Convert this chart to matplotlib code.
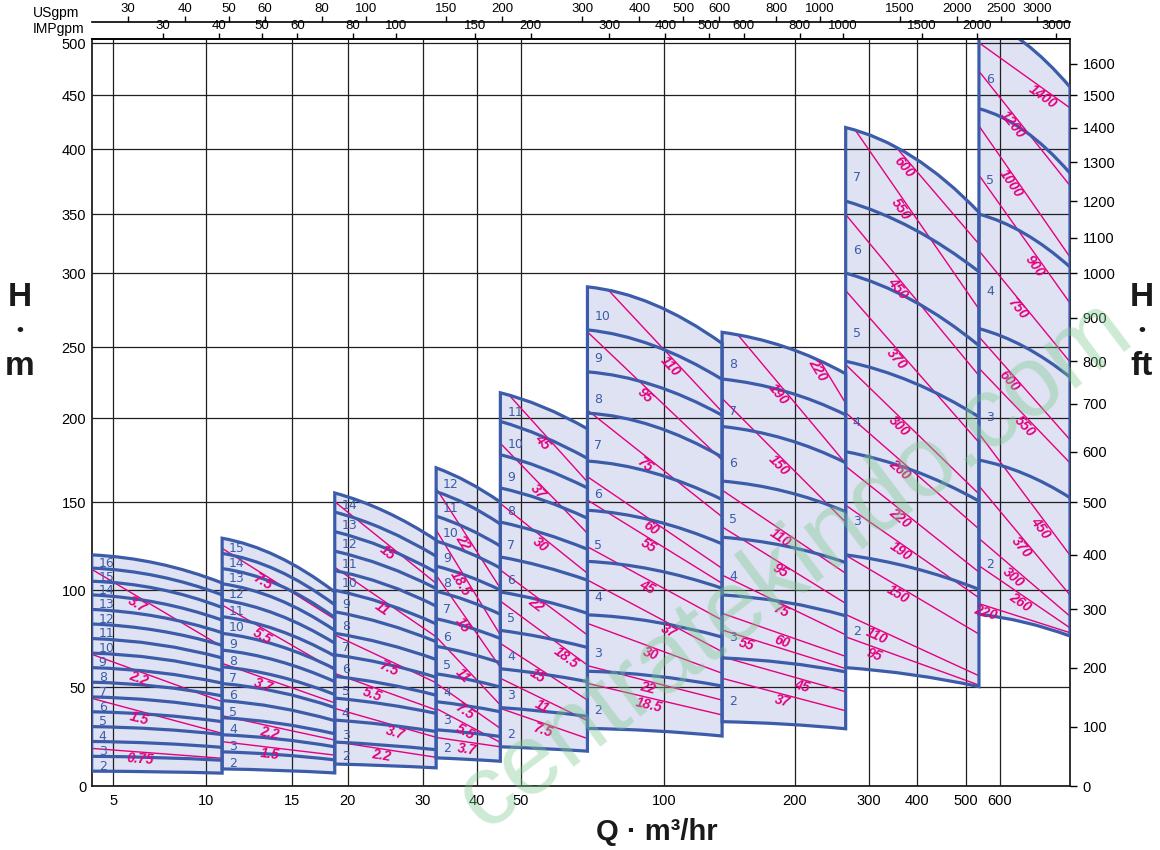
import numpy as np
import matplotlib
matplotlib.use('Agg')
import matplotlib.pyplot as plt
from matplotlib.path import Path
from matplotlib.patches import PathPatch
from matplotlib.ticker import NullLocator

plt.rcParams['font.family'] = ['Liberation Sans', 'DejaVu Sans']

# ---------------- axis calibration (the printed chart uses non-uniform axes) ----------
X_CAL_Q = [4.25, 5, 10, 15, 20, 30, 40, 50, 100, 200, 300, 400, 500, 600, 873]
X_CAL_PX = [91.7, 113.3, 205.7, 292.3, 347.7, 422.7, 477.3, 521, 664, 795, 869, 917, 966, 1000, 1070]
Y_CAL_H = [0, 50, 100, 150, 200, 250, 300, 350, 400, 450, 500]
Y_CAL_PX = [0, 99, 196, 284, 368, 439, 513, 572, 637, 691, 743]
FT_PER_M_LABEL = 0.3   # printed ft scale uses 1 ft ~ 0.3 m

# ---------------- tick labels ----------------
X_TICKS = [5, 10, 15, 20, 30, 40, 50, 100, 200, 300, 400, 500, 600]
Y_TICKS = [0, 50, 100, 150, 200, 250, 300, 350, 400, 450, 500]
FT_TICKS = list(range(0, 1700, 100))
US_TICKS = [30, 40, 50, 60, 80, 100, 150, 200, 300, 400, 500, 600, 800, 1000, 1500, 2000, 2500, 3000]
IMP_TICKS = [30, 40, 50, 60, 80, 100, 150, 200, 300, 400, 500, 600, 800, 1000, 1500, 2000, 3000]
US_LIM = (24.96, 3546)
IMP_LIM = (20.77, 3225)

# ---------------- pump families: flow range, head per stage, number of stages ----------
fam_q_start = [4.25, 10.8, 18.7, 32.2, 45.0, 69.0, 136.0, 264.0, 536.0]
fam_q_mid = [7.0, 14.0, 24.5, 38.0, 55.5, 95.0, 190.0, 390.0, 684.0]
fam_q_end = [10.8, 18.7, 32.2, 45.0, 69.0, 136.0, 264.0, 536.0, 873.0]
fam_h_start = [7.5, 8.63, 11.1, 14.2, 19.8, 29.07, 32.5, 60.0, 87.5]
fam_h_mid = [7.19, 7.94, 10.33, 13.5, 18.91, 27.9, 31.26, 56.3, 83.4]
fam_h_end = [6.5, 6.6, 9.17, 12.5, 17.6, 25.25, 28.9, 50.2, 76.3]
fam_stages = [16, 15, 14, 12, 11, 10, 8, 7, 6]

# ---------------- motor power lines (kW) per family ----------------
pw_labels = [
    ['3.7', '2.2', '1.5', '0.75'],
    ['7.5', '5.5', '3.7', '2.2', '1.5'],
    ['15', '11', '7.5', '5.5', '3.7', '2.2'],
    ['22', '18.5', '15', '11', '7.5', '5.5', '3.7'],
    ['45', '37', '30', '22', '18.5', '15', '11', '7.5'],
    ['110', '95', '75', '60', '55', '45', '37', '30', '22', '18.5'],
    ['220', '190', '150', '110', '95', '75', '60', '55', '45', '37'],
    ['600', '550', '450', '370', '300', '260', '220', '190', '150', '110', '95'],
    ['1400', '1200', '1000', '900', '750', '600', '550', '450', '370', '300', '260', '220'],
]
pw_h_start = [
    [111.8, 66.9, 44.3, 19.0],
    [123.7, 92.3, 62.2, 35.5, 22.4],
    [150.2, 112.9, 76.8, 57.0, 39.2, 22.4],
    [158.2, 134.1, 108.5, 75.9, 51.9, 39.2, 24.5],
    [223, 185, 149.2, 111.4, 94.3, 72.5, 54.5, 39.2],
    [304.6, 260.3, 205.6, 165.1, 151.2, 124.6, 105.7, 82.8, 61.0, 51.9],
    [362, 271, 213.9, 157.1, 135.9, 108.5, 88.0, 79.4, 65.6, 54.5],
    [456.6, 430.5, 349.7, 288.2, 237.7, 203.8, 171.3, 148.2, 119.8, 87.4, 75.9],
    [500.4, 473, 421.5, 380, 319, 257, 235.1, 190.8, 159.6, 129.3, 113.8, 93],
]
pw_h_end = [
    [70.8, 42.6, 26.6, 14.0],
    [85.0, 58.8, 42.0, 23.2, 15.6],
    [103.8, 75.9, 52.2, 38.4, 24.6, 14.5],
    [101.0, 76.8, 60.1, 40.9, 29.1, 22.0, 19.8],
    [162, 132.2, 109.5, 76.8, 61.3, 43.4, 33.0, 24.0],
    [204.4, 175.0, 141.6, 112.3, 103.8, 84.5, 68.2, 57.1, 43.4, 35.9],
    [210.4, 173, 138.5, 109.5, 93.1, 76.9, 65.8, 59.5, 47.6, 38.0],
    [324.6, 275.7, 229.9, 185.5, 154.8, 134.7, 110.2, 96.0, 77.3, 55.8, 51.0],
    [438.2, 371.9, 313.6, 279.7, 239.5, 187.1, 173.3, 119.8, 97.4, 86.5, 80.5, 78],
]
pw_label_t = [
    [0.38, 0.38, 0.38, 0.38],
    [0.39, 0.39, 0.39, 0.43, 0.43],
    [0.56, 0.51, 0.56, 0.39, 0.62, 0.47],
    [0.5, 0.47, 0.5, 0.5, 0.5, 0.5, 0.5],
    [0.54, 0.49, 0.51, 0.45, 0.8, 0.47, 0.51, 0.51],
    [0.65, 0.46, 0.46, 0.5, 0.48, 0.47, 0.63, 0.49, 0.46, 0.47],
    [0.82, 0.5, 0.5, 0.5, 0.5, 0.5, 0.5, 0.21, 0.66, 0.5],
    [0.48, 0.46, 0.43, 0.42, 0.44, 0.44, 0.44, 0.44, 0.42, 0.25, 0.23],
    [0.74, 0.43, 0.41, 0.68, 0.48, 0.39, 0.56, 0.74, 0.52, 0.43, 0.5, 0.1],
]

BLUE = '#3c5caa'
FILL = '#dee2f2'
MAG = '#e5007e'
GRID = '#231f20'


def make_piecewise(vals, pos, log=False):
    v = np.log10(np.asarray(vals, float)) if log else np.asarray(vals, float)
    p = np.asarray(pos, float)

    def fwd(x):
        x = np.asarray(x, float)
        if log:
            xv = np.log10(np.clip(x, 1e-9, None))
        else:
            xv = x
        out = np.interp(xv, v, p)
        out = np.where(xv < v[0], p[0] + (xv - v[0]) * (p[1] - p[0]) / (v[1] - v[0]), out)
        out = np.where(xv > v[-1], p[-1] + (xv - v[-1]) * (p[-1] - p[-2]) / (v[-1] - v[-2]), out)
        return out

    def inv(y):
        y = np.asarray(y, float)
        out = np.interp(y, p, v)
        out = np.where(y < p[0], v[0] + (y - p[0]) * (v[1] - v[0]) / (p[1] - p[0]), out)
        out = np.where(y > p[-1], v[-1] + (y - p[-1]) * (v[-1] - v[-2]) / (p[-1] - p[-2]), out)
        return 10 ** out if log else out

    return fwd, inv


fx, ix = make_piecewise(X_CAL_Q, X_CAL_PX, log=True)
fy, iy = make_piecewise(Y_CAL_H, Y_CAL_PX)


def fy_ft(f):
    return fy(np.asarray(f, float) * FT_PER_M_LABEL)


def iy_ft(p):
    return iy(p) / FT_PER_M_LABEL


W, H = 1160, 850
L, R, B, T = 91.7, 1070, 786, 39
fig = plt.figure(figsize=(W / 100, H / 100), dpi=100)
ax = fig.add_axes([L / W, 1 - B / H, (R - L) / W, (B - T) / H])
ax.set_xscale('function', functions=(fx, ix))
ax.set_yscale('function', functions=(fy, iy))
ax.set_xlim(4.25, 873)
ax.set_ylim(0, 504)
ax.set_xticks(X_TICKS)
ax.set_xticklabels([str(v) for v in X_TICKS])
ax.set_yticks(Y_TICKS)
ax.set_yticklabels([str(v) for v in Y_TICKS])
ax.xaxis.set_minor_locator(NullLocator())
ax.yaxis.set_minor_locator(NullLocator())
ax.tick_params(axis='both', length=0, labelsize=10.5)
ax.tick_params(axis='x', pad=6)
ax.tick_params(axis='y', pad=4)
ax.grid(True, color=GRID, lw=0.9)
ax.set_axisbelow('line')
for s in ax.spines.values():
    s.set_linewidth(1.3)
    s.set_color(GRID)


def bez_ctrl(p0, pm, p1):
    x0, xm, x1 = fx(p0[0]), fx(pm[0]), fx(p1[0])
    y0, ym, y1 = fy(p0[1]), fy(pm[1]), fy(p1[1])
    cx = 2 * xm - (x0 + x1) / 2
    cy = 2 * ym - (y0 + y1) / 2
    return (float(ix(cx)), float(iy(cy)))


fill_patches = []
for f in range(len(fam_stages)):
    q0, qm, q1 = fam_q_start[f], fam_q_mid[f], fam_q_end[f]
    h0, hm, h1 = fam_h_start[f], fam_h_mid[f], fam_h_end[f]
    N = fam_stages[f]
    ctrl = {}
    for n in range(1, N + 1):
        ctrl[n] = bez_ctrl((q0, n * h0), (qm, n * hm), (q1, n * h1))
    verts = [(q0, h0), (q0, N * h0), ctrl[N], (q1, N * h1), (q1, h1), ctrl[1], (q0, h0), (q0, h0)]
    codes = [Path.MOVETO, Path.LINETO, Path.CURVE3, Path.CURVE3, Path.LINETO,
             Path.CURVE3, Path.CURVE3, Path.CLOSEPOLY]
    region = Path(verts, codes)
    fp = PathPatch(region, facecolor=FILL, edgecolor='none', zorder=1)
    ax.add_patch(fp)
    fill_patches.append(fp)
    ax.add_patch(PathPatch(region, facecolor='none', edgecolor=BLUE, lw=2.3, zorder=3,
                           joinstyle='miter'))
    for n in range(2, N):
        cp = Path([(q0, n * h0), ctrl[n], (q1, n * h1)], [Path.MOVETO, Path.CURVE3, Path.CURVE3])
        ax.add_patch(PathPatch(cp, facecolor='none', edgecolor=BLUE, lw=2.3, zorder=3))

fig.canvas.draw()
to_disp = ax.transData.transform
to_data = ax.transData.inverted().transform

# stage numbers
for f in range(len(fam_stages)):
    q0, h0 = fam_q_start[f], fam_h_start[f]
    N = fam_stages[f]
    for n in range(2, N + 1):
        xu, yu = to_disp((q0, n * h0))
        _, yl = to_disp((q0, (n - 1) * h0))
        yl_lab = yu - 0.68 * (yu - yl)
        xd, yd = to_data((xu + 7, yl_lab))
        ax.text(xd, yd, str(n), color=BLUE, fontsize=9, family='DejaVu Sans',
                ha='left', va='center', zorder=5, clip_on=True)

# power lines
for f in range(len(fam_stages)):
    q0, q1 = fam_q_start[f], fam_q_end[f]
    for lab, hs, he, t in zip(pw_labels[f], pw_h_start[f], pw_h_end[f], pw_label_t[f]):
        ln, = ax.plot([q0, q1], [hs, he], color=MAG, lw=1.0, zorder=2)
        ln.set_clip_path(fill_patches[f])
        pL = np.array(to_disp((q0, hs)))
        pR = np.array(to_disp((q1, he)))
        d = pR - pL
        d = d / np.hypot(*d)
        P = pL + t * (pR - pL)
        nrm = np.array([d[1], -d[0]])
        P2 = P + 7 * nrm
        ang = np.degrees(np.arctan2(d[1], d[0]))
        xd, yd = to_data(P2)
        ax.text(xd, yd, lab, color=MAG, fontsize=10, weight='bold', style='italic',
                rotation=ang, rotation_mode='anchor', ha='center', va='center', zorder=6)

# right ft axis
axr = ax.twinx()
axr.set_yscale('function', functions=(fy_ft, iy_ft))
axr.set_ylim(0, 504 / FT_PER_M_LABEL)
axr.set_yticks(FT_TICKS)
axr.set_yticklabels([str(v) for v in FT_TICKS])
axr.yaxis.set_minor_locator(NullLocator())
axr.tick_params(axis='y', direction='out', length=5, width=1, pad=4, labelsize=10.5)
for s in axr.spines.values():
    s.set_visible(False)

# top gpm axes
def top_axis(ypx, lim, ticks):
    a = fig.add_axes([L / W, 1 - ypx / H, (R - L) / W, 0.0001])
    a.set_xscale('log')
    a.set_xlim(*lim)
    a.set_xticks(ticks)
    a.set_xticklabels([str(v) for v in ticks])
    a.xaxis.set_minor_locator(NullLocator())
    a.tick_params(axis='x', which='both', top=True, bottom=False, labeltop=True,
                  labelbottom=False, direction='out', length=4, width=1, pad=1, labelsize=9.5)
    a.set_yticks([])
    for s in ['left', 'right', 'bottom']:
        a.spines[s].set_visible(False)
    a.spines['top'].set_linewidth(1.2)
    a.patch.set_visible(False)
    return a

top_axis(22, US_LIM, US_TICKS)
top_axis(T, IMP_LIM, IMP_TICKS)
fig.text(33 / W, 1 - 13 / H, 'USgpm', fontsize=10, ha='left', va='center')
fig.text(33 / W, 1 - 29 / H, 'IMPgpm', fontsize=10, ha='left', va='center')

# axis titles
for xpx, lines in [(20, ['H', '•', 'm']), (1142, ['H', '•', 'ft'])]:
    for ypx, s in zip([297, 331, 366], lines):
        fig.text(xpx / W, 1 - ypx / H, s, fontsize=24 if s != '•' else 14,
                 weight='bold', ha='center', va='center', color='#1a1a1a')
fig.text(657 / W, 1 - 832 / H, 'Q · m³/hr', fontsize=21, weight='bold',
         ha='center', va='center', color='#1a1a1a')

# watermark
fig.text(795 / W, 1 - 565 / H, 'centratekindo.com', fontsize=72, color='#7cc98d',
         alpha=0.38, rotation=37, ha='center', va='center', zorder=10)

fig.savefig('out.png', dpi=100)
